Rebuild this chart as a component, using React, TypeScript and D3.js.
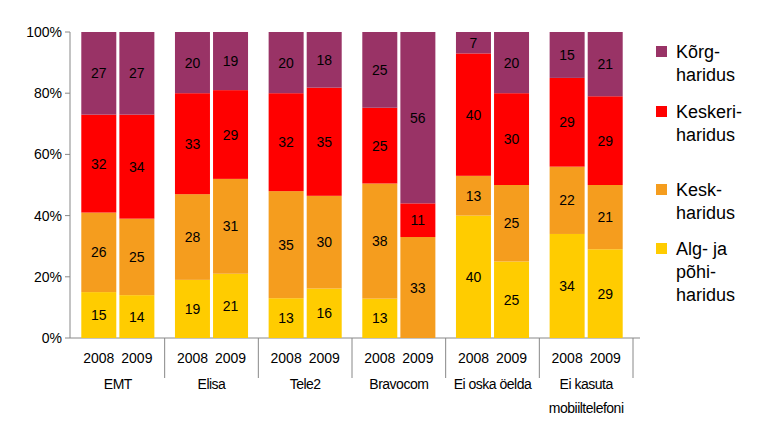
import React from "react";
import * as d3 from "d3";

const groups = ["EMT", "Elisa", "Tele2", "Bravocom", "Ei oska öelda", "Ei kasuta|mobiiltelefoni"];
const years = ["2008", "2009"];
const alg = [15, 14, 19, 21, 13, 16, 13, 0, 40, 25, 34, 29];
const kesk = [26, 25, 28, 31, 35, 30, 38, 33, 13, 25, 22, 21];
const keskeri = [32, 34, 33, 29, 32, 35, 25, 11, 40, 30, 29, 29];
const korg = [27, 27, 20, 19, 20, 18, 25, 56, 7, 20, 15, 21];
const series = [
  { name: ["Alg- ja", "põhi-", "haridus"], values: alg, color: "#ffcc00", ly: 250 },
  { name: ["Kesk-", "haridus"], values: kesk, color: "#f59d1e", ly: 191 },
  { name: ["Keskeri-", "haridus"], values: keskeri, color: "#ff0000", ly: 113 },
  { name: ["Kõrg-", "haridus"], values: korg, color: "#993366", ly: 53 },
];
const yTicks = [0, 20, 40, 60, 80, 100];

export default function App() {
  const x0 = 70, x1 = 640, yTop = 32, yBot = 338;
  const y = d3.scaleLinear().domain([0, 100]).range([yBot, yTop]);
  const gx = d3.scaleBand().domain(groups).range([x0 + 1, x1 - 7]);
  const bx = d3.scaleBand().domain(years).range([0, gx.bandwidth()]).paddingInner(0.04).paddingOuter(0.25);
  const bw = 35;
  const font = "Liberation Sans, Arial, sans-serif";
  return (
    <svg width={767} height={434} style={{ position: "absolute", left: 0, top: 0, fontFamily: font }}>
      {yTicks.map((t) => (
        <g key={t}>
          <line x1={x0 - 5} x2={x0} y1={y(t)} y2={y(t)} stroke="#888" />
          <text x={x0 - 8} y={y(t) + 5} textAnchor="end" fontSize={14}>{t}%</text>
        </g>
      ))}
      <line x1={x0} x2={x0} y1={yTop} y2={yBot} stroke="#888" />
      <line x1={x0} x2={x1} y1={yBot} y2={yBot} stroke="#888" />
      {groups.map((g, gi) => {
        const gl = gx(g)!;
        return (
          <g key={g}>
            <line x1={gl + gx.bandwidth()} x2={gl + gx.bandwidth()} y1={yBot} y2={yBot + 40} stroke="#888" />
            {years.map((yr, yi) => {
              const i = gi * 2 + yi;
              const cx = gl + bx(yr)! + bx.bandwidth() / 2;
              const total = series.reduce((a, s) => a + s.values[i], 0);
              let acc = 0;
              return (
                <g key={yr}>
                  {series.map((s) => {
                    const v = s.values[i];
                    const y0 = y((acc / total) * 100), y1v = y(((acc + v) / total) * 100);
                    acc += v;
                    if (v === 0) return null;
                    return (
                      <g key={s.color}>
                        <rect x={cx - bw / 2} y={y1v} width={bw} height={y0 - y1v} fill={s.color} />
                        <text x={cx} y={(y0 + y1v) / 2 + 5} textAnchor="middle" fontSize={14}>{v}</text>
                      </g>
                    );
                  })}
                  <text x={cx} y={363} textAnchor="middle" fontSize={14}>{yr}</text>
                </g>
              );
            })}
            {g.split("|").map((ln, li) => (
              <text key={li} x={gl + gx.bandwidth() / 2} y={389 + li * 24} textAnchor="middle" fontSize={14} letterSpacing={-0.5}>{ln}</text>
            ))}
          </g>
        );
      })}
      {series.map((s) => (
        <g key={s.color}>
          <rect x={656} y={s.ly - 7} width={11} height={11} fill={s.color} />
          {s.name.map((n, k) => (
            <text key={k} x={676} y={s.ly + 5 + k * 23} fontSize={18}>{n}</text>
          ))}
        </g>
      ))}
    </svg>
  );
}
